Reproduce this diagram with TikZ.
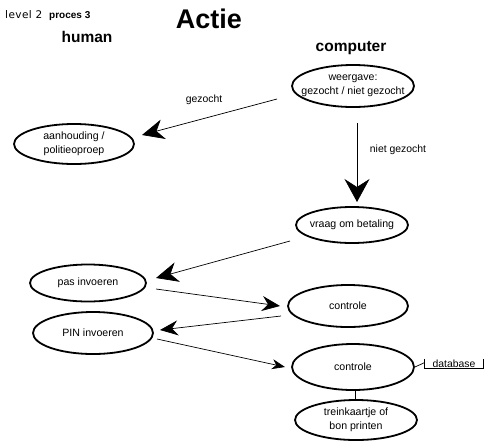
\documentclass[tikz,border=0pt]{standalone}
\usepackage{fontspec}
\setmainfont{Liberation Sans}
\newfontfamily\dejavu[LetterSpace=4]{DejaVu Sans}
\usetikzlibrary{shapes.geometric,arrows.meta}
\begin{document}
\begin{tikzpicture}[x=1pt,y=-1pt,
  ell/.style={ellipse, draw, line width=1.8pt, inner xsep=-20pt, inner ysep=-6pt, align=center,
    font=\fontsize{10.6}{14}\selectfont},
  lbl/.style={font=\fontsize{10.4}{12}\selectfont, inner sep=0pt},
  ttl/.style={font=\bfseries\fontsize{#1}{#1}\selectfont, inner sep=0pt},
  arrbig/.style={line width=0.7pt, -{Stealth[length=22pt,width=20pt,inset=7pt]}},
  arrmid/.style={line width=0.7pt, -{Stealth[length=18pt,width=15pt,inset=6pt]}},
  arrsml/.style={line width=0.7pt, -{Stealth[length=13pt,width=10pt,inset=4pt]}},
  arrvert/.style={line width=0.7pt, -{Stealth[length=23pt,width=25pt,inset=8pt]}},
  plain/.style={line width=0.7pt}
]
\useasboundingbox (0,0) rectangle (503,445);
% titles
\node[font=\dejavu\fontsize{10.5}{12}\selectfont, inner sep=0pt, anchor=base west] (lvl) at (5,18) {level 2};
\node[ttl=10, anchor=base west] (proc) at (49,18) {proces 3};
\node[ttl=27, anchor=base] (actie) at (209,28) {Actie};
\node[ttl=15.5, anchor=base] (human) at (87,42) {human};
\node[ttl=15.5, anchor=base] (comp) at (351,51) {computer};
% ellipses
\node[ell, minimum width=122pt, minimum height=42pt] (weer) at (353,86) {weergave:\\gezocht / niet gezocht};
\node[ell, minimum width=120pt, minimum height=40pt] (aan) at (74,144) {aanhouding /\\politieoproep};
\node[ell, minimum width=112pt, minimum height=36pt] (vraag) at (352,225) {vraag om betaling};
\node[ell, minimum width=116pt, minimum height=37pt] (pas) at (88,283) {pas invoeren};
\node[ell, minimum width=120pt, minimum height=42pt] (ctrlA) at (348,306) {controle};
\node[ell, minimum width=120pt, minimum height=42pt] (pin) at (93,333) {PIN invoeren};
\node[ell, minimum width=122pt, minimum height=46pt] (ctrlB) at (353,367) {controle};
\node[ell, minimum width=122pt, minimum height=40pt] (trein) at (356,420) {treinkaartje of\\bon printen};
% database store
\node[lbl, minimum width=58pt, minimum height=9pt] (db) at (454,363.5) {database};
\draw[plain] (db.north west) -- (db.south west) -- (db.south east) -- (db.north east);
\draw[plain] (ctrlB.east) -- ([yshift=1pt]db.west);
% labels
\node[lbl] (lgez) at (204,100) {gezocht};
\node[lbl] (lniet) at (398,150) {niet gezocht};
% connectors
\draw[arrbig] ([shift={(-76,13)}]weer.center) -- ([shift={(68,-9)}]aan.center);
\draw[arrvert] ([shift={(4,37)}]weer.center) -- ([shift={(5,-23)}]vraag.center);
\draw[arrbig] ([shift={(-62,16)}]vraag.center) -- ([shift={(68,-5)}]pas.center);
\draw[arrmid] ([shift={(68,6)}]pas.center) -- ([shift={(-68,0)}]ctrlA.center);
\draw[arrmid] ([shift={(-67,10)}]ctrlA.center) -- ([shift={(67,-3)}]pin.center);
\draw[arrsml] ([shift={(64,6)}]pin.center) -- ([shift={(-68,0)}]ctrlB.center);
\draw[plain] ([xshift=2pt]ctrlB.south) -- ([xshift=-1pt]trein.north);
\end{tikzpicture}
\end{document}
